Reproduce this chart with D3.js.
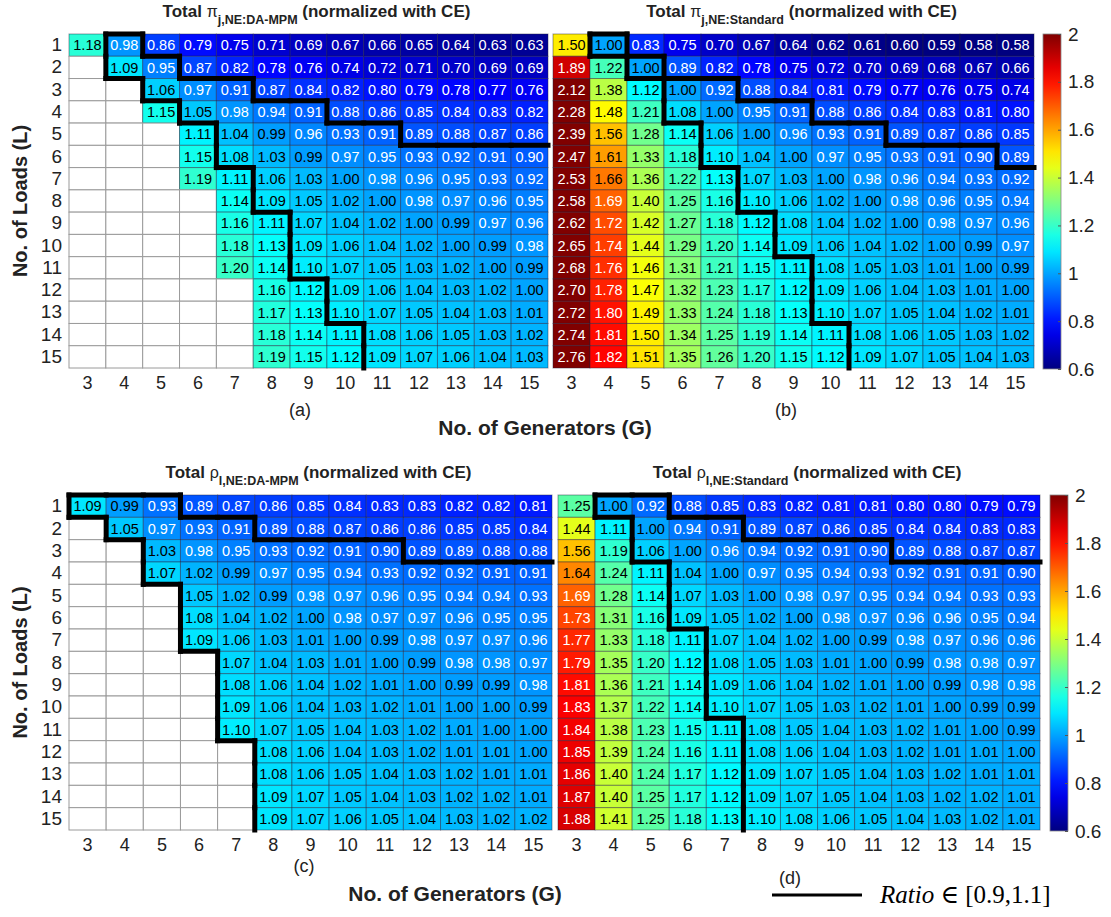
<!DOCTYPE html>
<html>
<head>
<meta charset="utf-8">
<script src="https://cdn.jsdelivr.net/npm/d3@7"></script>
<style>
  body { margin: 0; background: #fff; }
  svg { display: block; }
  .tick text { font-family: "Liberation Sans", Arial, sans-serif; }
</style>
</head>
<body>
<div id="chart"></div>
<script>
// categories
const gens = [3, 4, 5, 6, 7, 8, 9, 10, 11, 12, 13, 14, 15];
const loads = [1, 2, 3, 4, 5, 6, 7, 8, 9, 10, 11, 12, 13, 14, 15];
const colorTicks = [0.6, 0.8, 1, 1.2, 1.4, 1.6, 1.8, 2];
const ratioBand = [0.9, 1.1];

// (a) total pi, NE:DA-MPM / CE   (rows = loads, cols = gens, null = no value)
const piDaMpm = [
  [1.18, 0.98, 0.86, 0.79, 0.75, 0.71, 0.69, 0.67, 0.66, 0.65, 0.64, 0.63, 0.63],
  [null, 1.09, 0.95, 0.87, 0.82, 0.78, 0.76, 0.74, 0.72, 0.71, 0.70, 0.69, 0.69],
  [null, null, 1.06, 0.97, 0.91, 0.87, 0.84, 0.82, 0.80, 0.79, 0.78, 0.77, 0.76],
  [null, null, 1.15, 1.05, 0.98, 0.94, 0.91, 0.88, 0.86, 0.85, 0.84, 0.83, 0.82],
  [null, null, null, 1.11, 1.04, 0.99, 0.96, 0.93, 0.91, 0.89, 0.88, 0.87, 0.86],
  [null, null, null, 1.15, 1.08, 1.03, 0.99, 0.97, 0.95, 0.93, 0.92, 0.91, 0.90],
  [null, null, null, 1.19, 1.11, 1.06, 1.03, 1.00, 0.98, 0.96, 0.95, 0.93, 0.92],
  [null, null, null, null, 1.14, 1.09, 1.05, 1.02, 1.00, 0.98, 0.97, 0.96, 0.95],
  [null, null, null, null, 1.16, 1.11, 1.07, 1.04, 1.02, 1.00, 0.99, 0.97, 0.96],
  [null, null, null, null, 1.18, 1.13, 1.09, 1.06, 1.04, 1.02, 1.00, 0.99, 0.98],
  [null, null, null, null, 1.20, 1.14, 1.10, 1.07, 1.05, 1.03, 1.02, 1.00, 0.99],
  [null, null, null, null, null, 1.16, 1.12, 1.09, 1.06, 1.04, 1.03, 1.02, 1.00],
  [null, null, null, null, null, 1.17, 1.13, 1.10, 1.07, 1.05, 1.04, 1.03, 1.01],
  [null, null, null, null, null, 1.18, 1.14, 1.11, 1.08, 1.06, 1.05, 1.03, 1.02],
  [null, null, null, null, null, 1.19, 1.15, 1.12, 1.09, 1.07, 1.06, 1.04, 1.03]
];

// (b) total pi, NE:Standard / CE
const piStandard = [
  [1.50, 1.00, 0.83, 0.75, 0.70, 0.67, 0.64, 0.62, 0.61, 0.60, 0.59, 0.58, 0.58],
  [1.89, 1.22, 1.00, 0.89, 0.82, 0.78, 0.75, 0.72, 0.70, 0.69, 0.68, 0.67, 0.66],
  [2.12, 1.38, 1.12, 1.00, 0.92, 0.88, 0.84, 0.81, 0.79, 0.77, 0.76, 0.75, 0.74],
  [2.28, 1.48, 1.21, 1.08, 1.00, 0.95, 0.91, 0.88, 0.86, 0.84, 0.83, 0.81, 0.80],
  [2.39, 1.56, 1.28, 1.14, 1.06, 1.00, 0.96, 0.93, 0.91, 0.89, 0.87, 0.86, 0.85],
  [2.47, 1.61, 1.33, 1.18, 1.10, 1.04, 1.00, 0.97, 0.95, 0.93, 0.91, 0.90, 0.89],
  [2.53, 1.66, 1.36, 1.22, 1.13, 1.07, 1.03, 1.00, 0.98, 0.96, 0.94, 0.93, 0.92],
  [2.58, 1.69, 1.40, 1.25, 1.16, 1.10, 1.06, 1.02, 1.00, 0.98, 0.96, 0.95, 0.94],
  [2.62, 1.72, 1.42, 1.27, 1.18, 1.12, 1.08, 1.04, 1.02, 1.00, 0.98, 0.97, 0.96],
  [2.65, 1.74, 1.44, 1.29, 1.20, 1.14, 1.09, 1.06, 1.04, 1.02, 1.00, 0.99, 0.97],
  [2.68, 1.76, 1.46, 1.31, 1.21, 1.15, 1.11, 1.08, 1.05, 1.03, 1.01, 1.00, 0.99],
  [2.70, 1.78, 1.47, 1.32, 1.23, 1.17, 1.12, 1.09, 1.06, 1.04, 1.03, 1.01, 1.00],
  [2.72, 1.80, 1.49, 1.33, 1.24, 1.18, 1.13, 1.10, 1.07, 1.05, 1.04, 1.02, 1.01],
  [2.74, 1.81, 1.50, 1.34, 1.25, 1.19, 1.14, 1.11, 1.08, 1.06, 1.05, 1.03, 1.02],
  [2.76, 1.82, 1.51, 1.35, 1.26, 1.20, 1.15, 1.12, 1.09, 1.07, 1.05, 1.04, 1.03]
];

// (c) total rho, NE:DA-MPM / CE
const rhoDaMpm = [
  [1.09, 0.99, 0.93, 0.89, 0.87, 0.86, 0.85, 0.84, 0.83, 0.83, 0.82, 0.82, 0.81],
  [null, 1.05, 0.97, 0.93, 0.91, 0.89, 0.88, 0.87, 0.86, 0.86, 0.85, 0.85, 0.84],
  [null, null, 1.03, 0.98, 0.95, 0.93, 0.92, 0.91, 0.90, 0.89, 0.89, 0.88, 0.88],
  [null, null, 1.07, 1.02, 0.99, 0.97, 0.95, 0.94, 0.93, 0.92, 0.92, 0.91, 0.91],
  [null, null, null, 1.05, 1.02, 0.99, 0.98, 0.97, 0.96, 0.95, 0.94, 0.94, 0.93],
  [null, null, null, 1.08, 1.04, 1.02, 1.00, 0.98, 0.97, 0.97, 0.96, 0.95, 0.95],
  [null, null, null, 1.09, 1.06, 1.03, 1.01, 1.00, 0.99, 0.98, 0.97, 0.97, 0.96],
  [null, null, null, null, 1.07, 1.04, 1.03, 1.01, 1.00, 0.99, 0.98, 0.98, 0.97],
  [null, null, null, null, 1.08, 1.06, 1.04, 1.02, 1.01, 1.00, 0.99, 0.99, 0.98],
  [null, null, null, null, 1.09, 1.06, 1.04, 1.03, 1.02, 1.01, 1.00, 1.00, 0.99],
  [null, null, null, null, 1.10, 1.07, 1.05, 1.04, 1.03, 1.02, 1.01, 1.00, 1.00],
  [null, null, null, null, null, 1.08, 1.06, 1.04, 1.03, 1.02, 1.01, 1.01, 1.00],
  [null, null, null, null, null, 1.08, 1.06, 1.05, 1.04, 1.03, 1.02, 1.01, 1.01],
  [null, null, null, null, null, 1.09, 1.07, 1.05, 1.04, 1.03, 1.02, 1.02, 1.01],
  [null, null, null, null, null, 1.09, 1.07, 1.06, 1.05, 1.04, 1.03, 1.02, 1.02]
];

// (d) total rho, NE:Standard / CE
const rhoStandard = [
  [1.25, 1.00, 0.92, 0.88, 0.85, 0.83, 0.82, 0.81, 0.81, 0.80, 0.80, 0.79, 0.79],
  [1.44, 1.11, 1.00, 0.94, 0.91, 0.89, 0.87, 0.86, 0.85, 0.84, 0.84, 0.83, 0.83],
  [1.56, 1.19, 1.06, 1.00, 0.96, 0.94, 0.92, 0.91, 0.90, 0.89, 0.88, 0.87, 0.87],
  [1.64, 1.24, 1.11, 1.04, 1.00, 0.97, 0.95, 0.94, 0.93, 0.92, 0.91, 0.91, 0.90],
  [1.69, 1.28, 1.14, 1.07, 1.03, 1.00, 0.98, 0.97, 0.95, 0.94, 0.94, 0.93, 0.93],
  [1.73, 1.31, 1.16, 1.09, 1.05, 1.02, 1.00, 0.98, 0.97, 0.96, 0.96, 0.95, 0.94],
  [1.77, 1.33, 1.18, 1.11, 1.07, 1.04, 1.02, 1.00, 0.99, 0.98, 0.97, 0.96, 0.96],
  [1.79, 1.35, 1.20, 1.12, 1.08, 1.05, 1.03, 1.01, 1.00, 0.99, 0.98, 0.98, 0.97],
  [1.81, 1.36, 1.21, 1.14, 1.09, 1.06, 1.04, 1.02, 1.01, 1.00, 0.99, 0.98, 0.98],
  [1.83, 1.37, 1.22, 1.14, 1.10, 1.07, 1.05, 1.03, 1.02, 1.01, 1.00, 0.99, 0.99],
  [1.84, 1.38, 1.23, 1.15, 1.11, 1.08, 1.05, 1.04, 1.03, 1.02, 1.01, 1.00, 0.99],
  [1.85, 1.39, 1.24, 1.16, 1.11, 1.08, 1.06, 1.04, 1.03, 1.02, 1.01, 1.01, 1.00],
  [1.86, 1.40, 1.24, 1.17, 1.12, 1.09, 1.07, 1.05, 1.04, 1.03, 1.02, 1.01, 1.01],
  [1.87, 1.40, 1.25, 1.17, 1.12, 1.09, 1.07, 1.05, 1.04, 1.03, 1.02, 1.02, 1.01],
  [1.88, 1.41, 1.25, 1.18, 1.13, 1.10, 1.08, 1.06, 1.05, 1.04, 1.03, 1.02, 1.01]
];

const W = 1111, H = 917;
const sans = '"Liberation Sans", Arial, sans-serif';

const svg = d3.select("#chart").append("svg")
  .attr("width", W)
  .attr("height", H);

// MATLAB jet colormap
function jet(t) {
  const c = v => Math.max(0, Math.min(1, v));
  return [c(1.5 - Math.abs(4 * t - 3)), c(1.5 - Math.abs(4 * t - 2)), c(1.5 - Math.abs(4 * t - 1))];
}
const tScale = d3.scaleLinear().domain([0.6, 2]).range([0, 1]).clamp(true);
const toRgb = a => d3.rgb(a[0] * 255, a[1] * 255, a[2] * 255).formatHex();
const cellColor = v => toRgb(jet(tScale(v)));
const textColor = v => {
  const a = jet(tScale(v));
  return (0.2126 * a[0] + 0.7152 * a[1] + 0.0722 * a[2]) > 0.5 ? "#000" : "#fff";
};
const inBand = v => v != null && v >= ratioBand[0] - 1e-9 && v <= ratioBand[1] + 1e-9;

const panels = [
  { data: piDaMpm, sym: "\u03c0", sub: "j,NE:DA-MPM", letter: "(a)", x0: 69, x1: 548, y0: 34, y1: 368, lx: 300, ly: 416 },
  { data: piStandard, sym: "\u03c0", sub: "j,NE:Standard", letter: "(b)", x0: 553, x1: 1034, y0: 34, y1: 368, lx: 786, ly: 416 },
  { data: rhoDaMpm, sym: "\u03c1", sub: "l,NE:DA-MPM", letter: "(c)", x0: 69, x1: 552, y0: 495, y1: 830, lx: 304, ly: 872 },
  { data: rhoStandard, sym: "\u03c1", sub: "l,NE:Standard", letter: "(d)", x0: 558, x1: 1040, y0: 495, y1: 830, lx: 790, ly: 884 }
];

panels.forEach((p, i) => {
  const x = d3.scaleBand().domain(gens).range([p.x0, p.x1]);
  const y = d3.scaleBand().domain(loads).range([p.y0, p.y1]);
  const g = svg.append("g");

  const cells = [];
  p.data.forEach((row, r) => row.forEach((v, c) => cells.push({ L: loads[r], G: gens[c], r, c, v })));

  g.selectAll("rect.cell").data(cells).join("rect")
    .attr("class", "cell")
    .attr("x", d => x(d.G))
    .attr("y", d => y(d.L))
    .attr("width", x.bandwidth())
    .attr("height", y.bandwidth())
    .attr("fill", d => d.v == null ? "#fff" : cellColor(d.v))
    .attr("stroke", d => d.v == null ? "#9a9a9a" : "rgba(30,30,60,0.45)")
    .attr("stroke-width", 1);

  g.selectAll("text.val").data(cells.filter(d => d.v != null)).join("text")
    .attr("class", "val")
    .attr("x", d => x(d.G) + x.bandwidth() / 2)
    .attr("y", d => y(d.L) + y.bandwidth() / 2)
    .attr("dy", "0.36em")
    .attr("text-anchor", "middle")
    .attr("font-family", sans)
    .attr("font-size", 14.5)
    .attr("fill", d => textColor(d.v))
    .text(d => d.v.toFixed(2));

  // boundary of the [0.9, 1.1] region
  const segs = [];
  const nR = loads.length, nC = gens.length;
  const val = (r, c) => (r < 0 || c < 0 || r >= nR || c >= nC) ? undefined : p.data[r][c];
  cells.filter(d => inBand(d.v)).forEach(d => {
    const xl = x(d.G), xr = xl + x.bandwidth(), yt = y(d.L), yb = yt + y.bandwidth();
    if (d.r === 0 || !inBand(val(d.r - 1, d.c))) segs.push([xl, yt, xr, yt]);
    if (d.c === 0 || !inBand(val(d.r, d.c - 1))) segs.push([xl, yt, xl, yb]);
    if (d.c < nC - 1 && !inBand(val(d.r, d.c + 1))) segs.push([xr, yt, xr, yb]);
    if (d.r < nR - 1 && !inBand(val(d.r + 1, d.c))) segs.push([xl, yb, xr, yb]);
  });
  g.selectAll("line.band").data(segs).join("line")
    .attr("class", "band")
    .attr("x1", d => d[0]).attr("y1", d => d[1])
    .attr("x2", d => d[2]).attr("y2", d => d[3])
    .attr("stroke", "#000")
    .attr("stroke-width", 5)
    .attr("stroke-linecap", "square");

  // axes
  const ax = g.append("g")
    .attr("transform", "translate(0," + (p.y1 + 4) + ")")
    .call(d3.axisBottom(x).tickSize(0).tickPadding(4));
  ax.select(".domain").remove();
  ax.selectAll("text").attr("font-size", 18).attr("fill", "#222");

  if (i % 2 === 0) {
    const ay = g.append("g")
      .attr("transform", "translate(" + (p.x0 - 5) + ",0)")
      .call(d3.axisLeft(y).tickSize(0).tickPadding(2));
    ay.select(".domain").remove();
    ay.selectAll("text").attr("font-size", 19).attr("fill", "#222");

    g.append("text")
      .attr("transform", "translate(27," + ((p.y0 + p.y1) / 2) + ") rotate(-90)")
      .attr("text-anchor", "middle")
      .attr("font-family", sans)
      .attr("font-weight", "bold")
      .attr("font-size", 20)
      .attr("fill", "#222")
      .text("No. of Loads (L)");
  }

  // title
  const t = g.append("text")
    .attr("x", (p.x0 + p.x1) / 2 + 8)
    .attr("y", p.y0 - 17)
    .attr("text-anchor", "middle")
    .attr("font-family", sans)
    .attr("font-weight", "bold")
    .attr("font-size", 17)
    .attr("fill", "#222");
  t.append("tspan").text("Total ");
  t.append("tspan").attr("font-weight", "normal").attr("font-size", 16).text(p.sym);
  t.append("tspan").attr("dy", 7).attr("font-size", 12.5).text(p.sub);
  t.append("tspan").attr("dy", -7).text(" (normalized with CE)");

  g.append("text")
    .attr("x", p.lx)
    .attr("y", p.ly)
    .attr("text-anchor", "middle")
    .attr("font-family", sans)
    .attr("font-size", 18)
    .attr("fill", "#222")
    .text(p.letter);
});

// colorbars
const cbars = [
  { x: 1043, y0: 34, y1: 369 },
  { x: 1050, y0: 495, y1: 831 }
];
const defs = svg.append("defs");
const grad = defs.append("linearGradient").attr("id", "jetGrad")
  .attr("x1", 0).attr("y1", 1).attr("x2", 0).attr("y2", 0);
d3.range(0, 1.0001, 0.05).forEach(s => {
  grad.append("stop").attr("offset", s).attr("stop-color", toRgb(jet(s)));
});
cbars.forEach(cb => {
  const cw = 18;
  const s = d3.scaleLinear().domain([0.6, 2]).range([cb.y1, cb.y0]);
  svg.append("rect")
    .attr("x", cb.x).attr("y", cb.y0)
    .attr("width", cw).attr("height", cb.y1 - cb.y0)
    .attr("fill", "url(#jetGrad)")
    .attr("stroke", "#888").attr("stroke-width", 0.8);
  const a = svg.append("g")
    .attr("transform", "translate(" + (cb.x + cw) + ",0)")
    .call(d3.axisRight(s).tickValues(colorTicks).tickFormat(d3.format("~g")).tickSizeInner(-3).tickSizeOuter(0).tickPadding(7));
  a.select(".domain").remove();
  a.selectAll("line").attr("stroke", "#555");
  a.selectAll("text").attr("font-size", 19).attr("fill", "#222");
});

// x axis titles
[{ x: 545, y: 435 }, { x: 455, y: 901 }].forEach(d => {
  svg.append("text")
    .attr("x", d.x).attr("y", d.y)
    .attr("text-anchor", "middle")
    .attr("font-family", sans)
    .attr("font-weight", "bold")
    .attr("font-size", 21)
    .attr("fill", "#222")
    .text("No. of Generators (G)");
});

// legend
svg.append("line")
  .attr("x1", 772).attr("x2", 862)
  .attr("y1", 895).attr("y2", 895)
  .attr("stroke", "#000").attr("stroke-width", 3);
const lt = svg.append("text")
  .attr("x", 880).attr("y", 903)
  .attr("font-family", '"Liberation Serif", "DejaVu Serif", serif')
  .attr("font-size", 25)
  .attr("fill", "#000");
lt.append("tspan").attr("font-style", "italic").text("Ratio");
lt.append("tspan").text(" \u2208 [0.9,1.1]");
</script>
</body>
</html>
